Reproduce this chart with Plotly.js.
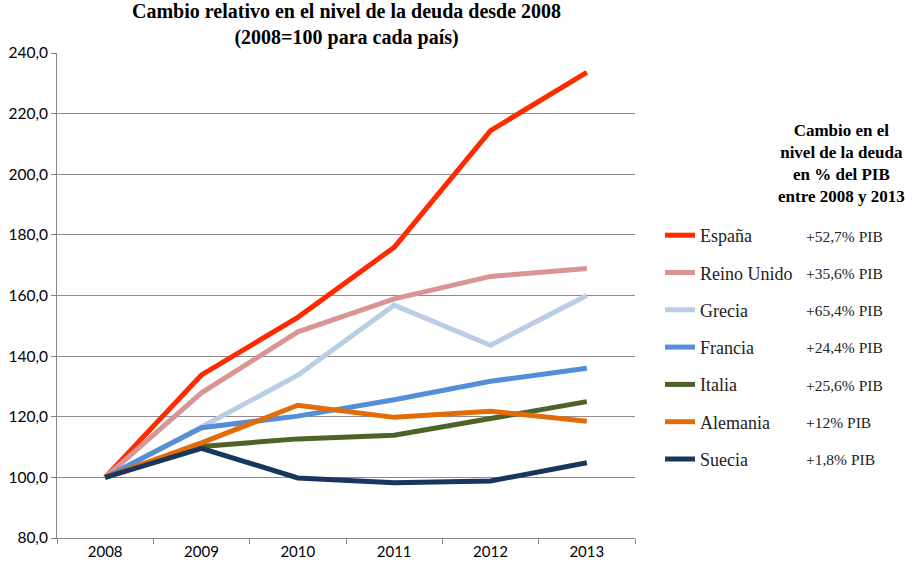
<!DOCTYPE html>
<html><head><meta charset="utf-8">
<script src="https://cdn.plot.ly/plotly-3.0.1.min.js"></script>
<style>body{margin:0;background:#fff}#c{width:914px;height:578px}</style>
</head><body><div id="c"></div>
<script>
const years = ['2008','2009','2010','2011','2012','2013'];
const espana = [100, 133.8, 152.8, 175.9, 214.4, 233.6];
const reinoUnido = [100, 127.9, 148.0, 158.9, 166.3, 168.9];
const grecia = [100, 116.6, 133.7, 156.8, 143.6, 160.0];
const francia = [100, 116.4, 120.2, 125.6, 131.7, 136.0];
const italia = [100, 110.2, 112.7, 113.9, 119.4, 125.0];
const alemania = [100, 111.4, 123.8, 119.8, 121.8, 118.5];
const suecia = [100, 109.6, 99.8, 98.2, 98.8, 104.8];
const names = ['España','Reino Unido','Grecia','Francia','Italia','Alemania','Suecia'];
const changes = ['+52,7% PIB','+35,6% PIB','+65,4% PIB','+24,4% PIB','+25,6% PIB','+12% PIB','+1,8% PIB'];
const series = [espana, reinoUnido, grecia, francia, italia, alemania, suecia];
const colors = ['#FF2A00','#D99594','#B9CDE5','#558ED5','#4F6228','#E36C09','#17375E'];

const traces = series.map((s,i)=>({
  x: years, y: s, type:'scatter', mode:'lines', name: names[i],
  legendgroup: 'g'+i,
  line:{color:colors[i], width:5}
}));

const serif = '"Liberation Serif", serif';
const annotations = [{
  xref:'paper', yref:'paper', x:0.5, y:1, xanchor:'center', yanchor:'bottom', yshift:2,
  text:'<b>Cambio relativo en el nivel de la deuda desde 2008<br>(2008=100 para cada país)</b>',
  showarrow:false, align:'center', font:{family:serif, size:20, color:'#000'}
},{
  xref:'paper', yref:'paper', x:(841-57)/578, y:(538-119)/485, xanchor:'center', yanchor:'top',
  text:'<b>Cambio en el<br>nivel de la deuda<br>en % del PIB<br>entre 2008 y 2013</b>',
  showarrow:false, align:'center', font:{family:serif, size:17, color:'#000'}
}];
const rowTop = 236, rowGap = 37.3;
changes.forEach((c,i)=>{
  annotations.push({xref:'paper', yref:'paper', x:(804-57)/578, xanchor:'left',
    y:(538-(rowTop+i*rowGap))/485, yanchor:'middle', text:c, showarrow:false,
    font:{family:serif, size:15.5, color:'#222'}});
});

const layout = {
  width:914, height:578,
  margin:{l:57, r:279, t:53, b:40},
  paper_bgcolor:'#fff', plot_bgcolor:'#fff',
  separators:',.',
  xaxis:{type:'category', range:[-0.5,5.5], tickson:'boundaries', ticks:'outside', ticklen:5,
    tickcolor:'#868686', showline:true, linecolor:'#868686', linewidth:1, showgrid:false,
    tickfont:{family:'Lato, sans-serif', size:15, color:'#000'}, fixedrange:true},
  yaxis:{range:[80,240], dtick:20, tickformat:'.1f', ticks:'outside', ticklen:5, tickcolor:'#868686',
    showline:true, linecolor:'#868686', linewidth:1, gridcolor:'#8c8c8c', gridwidth:1, zeroline:false,
    tickfont:{family:'Lato, sans-serif', size:15.5, color:'#000'}},
  showlegend:true,
  legend:{x:(660-57)/578, xanchor:'left', y:(538-217)/485, yanchor:'top', tracegroupgap:10.9,
    font:{family:serif, size:18, color:'#222'}, bgcolor:'rgba(0,0,0,0)', itemwidth:30},
  annotations: annotations
};
Plotly.newPlot('c', traces, layout, {staticPlot:true});
</script></body></html>
